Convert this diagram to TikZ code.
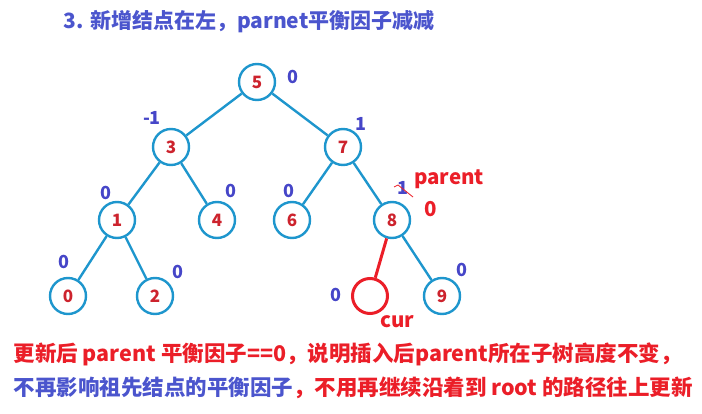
\documentclass[tikz,border=0pt]{standalone}
\usepackage{fontspec}
\setmainfont{Noto Sans CJK SC}
\usepackage{tikz}
\usetikzlibrary{positioning,calc}
\definecolor{treeblue}{RGB}{30,150,205}
\definecolor{keyred}{RGB}{205,35,45}
\definecolor{bfblue}{RGB}{70,70,200}
\definecolor{txtred}{RGB}{235,30,40}
\definecolor{titleblue}{RGB}{75,85,205}

\begin{document}
\begin{tikzpicture}[x=1pt,y=-1pt,
  treenode/.style={circle, draw=treeblue, line width=2.4pt, fill=white,
                   minimum size=36pt, inner sep=0pt, text=keyred,
                   font=\fontsize{17}{17}\selectfont\bfseries},
  curnode/.style={treenode, draw=txtred, line width=3pt, minimum size=35pt},
  bf/.style={text=bfblue, font=\fontsize{18}{18}\selectfont\bfseries, inner sep=0pt},
  redtxt/.style={text=txtred, font=\fontsize{20.5}{20.5}\selectfont\bfseries, inner sep=0pt},
  link/.style={draw=treeblue, line width=2.4pt},
  curlink/.style={draw=txtred, line width=3pt}
]
\useasboundingbox (0,0) rectangle (702,414);

%% Title
\node[anchor=west, text=titleblue, font=\fontsize{21}{21}\selectfont\bfseries] (title)
  at (60,22) {3. 新增结点在左，parnet平衡因子减减};

%% Tree nodes
\node[treenode] (n5) at (257,82) {5};
\node[treenode] (n3) at (171,147) {3};
\node[treenode] (n7) at (343,147) {7};
\node[treenode] (n1) at (117,220) {1};
\node[treenode] (n4) at (217,220) {4};
\node[treenode] (n6) at (292,220) {6};
\node[treenode] (n8) at (392,220) {8};
\node[treenode] (n0) at (68,296) {0};
\node[treenode] (n2) at (155,296) {2};
\node[curnode]  (cur) at (370,296) {};
\node[treenode] (n9) at (442,296) {9};

%% Links
\draw[link] (n5) -- (n3);
\draw[link] (n5) -- (n7);
\draw[link] (n3) -- (n1);
\draw[link] (n3) -- (n4);
\draw[link] (n7) -- (n6);
\draw[link] (n7) -- (n8);
\draw[link] (n1) -- (n0);
\draw[link] (n1) -- (n2);
\draw[link] (n8) -- (n9);
\draw[curlink] (n8) -- (cur);

%% Balance factors
\node[bf] (bf5) at (293,77) {0};
\node[bf] (bf3) at (152,118) {-1};
\node[bf] (bf7) at (361,124) {1};
\node[bf] (bf1) at (106,193) {0};
\node[bf] (bf4) at (231,191) {0};
\node[bf] (bf6) at (289,191) {0};
\node[bf] (bf8) at (403,188) {1};
\node[bf] (bf0) at (64,262) {0};
\node[bf] (bf2) at (178,272) {0};
\node[bf] (bfc) at (336,295) {0};
\node[bf] (bf9) at (462,270) {0};

%% parent / cur marks
\draw[txtred, line width=0.8pt] (394,187) -- (398,185) -- (413,197);
\node[redtxt, anchor=west] (par) at (414,179) {parent};
\node[redtxt] (par0) at (431,209) {0};
\node[redtxt] (curtxt) at (397,322) {cur};

%% Notes
\node[anchor=west, text=txtred, font=\fontsize{21.5}{21.5}\selectfont\bfseries] (note1)
  at (10,354) {更新后 parent 平衡因子==0，说明插入后parent所在子树高度不变，};
\node[anchor=west, font=\fontsize{21.5}{21.5}\selectfont\bfseries] (note2)
  at (10,388) {\textcolor{titleblue}{不再影响祖先结点的平衡因子}\textcolor{txtred}{，不用再继续沿着到 root 的路径往上更新}};

\end{tikzpicture}
\end{document}
